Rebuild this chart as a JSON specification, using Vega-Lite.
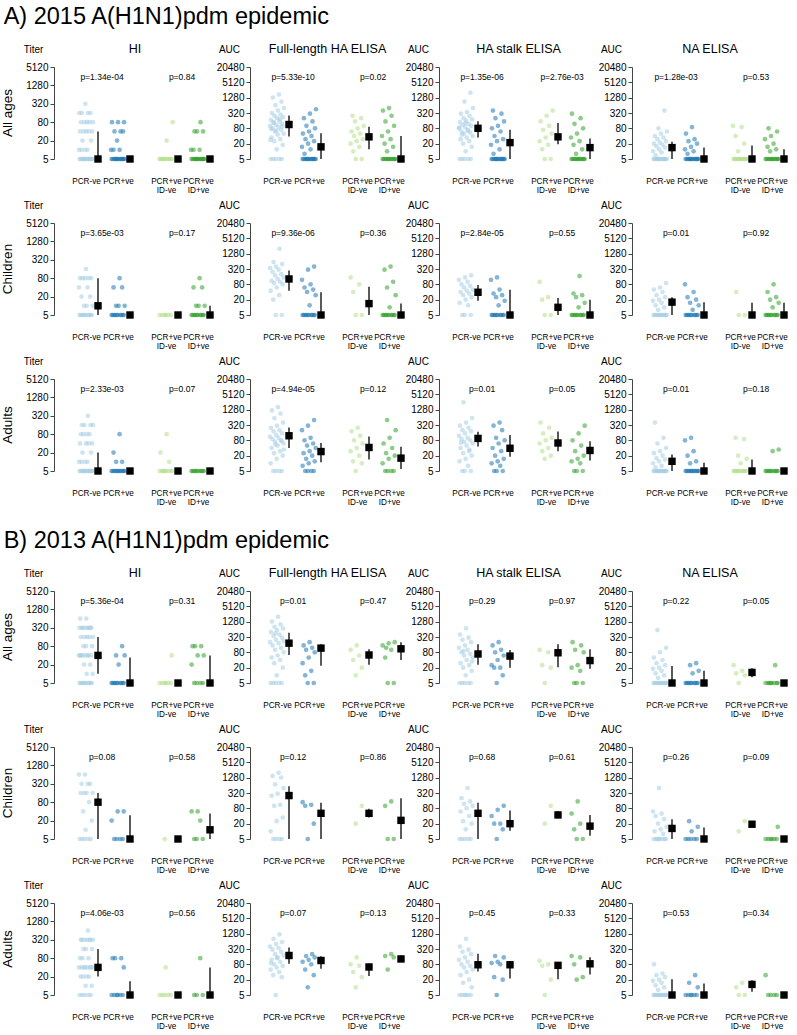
{
"$schema": "https://vega.github.io/schema/vega-lite/v6.json",
"padding": {"left": 0, "top": 5, "right": 0, "bottom": 0},
"data": {"name": "d"},
"config": {
 "font": "Liberation Sans",
 "view": {"stroke": null},
 "axisY": {"labelFontSize": 10, "labelPadding": 2, "tickSize": 4, "domainColor": "#444", "tickColor": "#444", "labelColor": "black", "grid": false, "titleAngle": 0, "titleAlign": "center", "titleBaseline": "middle", "titleX": -21, "titleY": -18, "titleFontSize": 10, "titleFontWeight": "normal", "titleColor": "black", "labelFlush": false, "labelOverlap": false},
 "axisX": {"domain": false, "ticks": false, "labelFontSize": 8.2, "labelPadding": 22, "labelBaseline": "middle", "labelLineHeight": 9.5, "labelAngle": 0, "labelOverlap": false, "labelColor": "black", "labelFlush": false},
 "title": {"fontWeight": "normal", "color": "black"}
},
"datasets": {
"d": [
{"s":"A","r":"All ages","m":"HI","g":"PCR-ve","pg":"PCR","p":"p=1.34e-04","med":5,"lo":5,"hi":40,"v":[5,5,5,5,5,5,5,5,5,5,5,5,5,5,10,10,10,10,20,20,40,40,40,40,40,80,80,80,80,80,160,160,160,160,320]},
{"s":"A","r":"All ages","m":"HI","g":"PCR+ve","med":5,"lo":5,"hi":5,"v":[5,5,5,5,5,5,5,5,5,5,5,5,5,5,10,10,10,20,40,40,40,80,80,80]},
{"s":"A","r":"All ages","m":"HI","g":"PCR+ve ID-ve","pg":"ID","p":"p=0.84","med":5,"lo":5,"hi":5,"v":[5,5,5,5,5,5,5,5,5,5,20,80]},
{"s":"A","r":"All ages","m":"HI","g":"PCR+ve ID+ve","med":5,"lo":5,"hi":5,"v":[5,5,5,5,5,5,5,5,5,5,5,5,5,5,10,10,10,40,40,40,80]},
{"s":"A","r":"All ages","m":"FL","g":"PCR-ve","pg":"PCR","p":"p=5.33e-10","med":113,"lo":38,"hi":254,"v":[5,5,5,5,5,12,18,25,30,35,45,50,60,70,80,90,100,110,120,130,150,170,200,220,250,280,320,400,500,650,900,1300,1700,28,65,95,140,180,75]},
{"s":"A","r":"All ages","m":"FL","g":"PCR+ve","med":15,"lo":5,"hi":51,"v":[5,5,5,5,5,5,5,5,5,5,5,5,5,5,8,12,15,20,25,30,40,50,60,80,100,150,200,300,450]},
{"s":"A","r":"All ages","m":"FL","g":"PCR+ve ID-ve","pg":"ID","p":"p=0.02","med":37,"lo":12,"hi":92,"v":[5,5,10,15,20,25,30,40,50,60,80,100,150,200,250]},
{"s":"A","r":"All ages","m":"FL","g":"PCR+ve ID+ve","med":5,"lo":5,"hi":40,"v":[5,5,5,5,5,5,5,5,5,5,5,5,10,15,20,30,40,60,100,150,250,400,500]},
{"s":"A","r":"All ages","m":"ST","g":"PCR-ve","pg":"PCR","p":"p=1.35e-06","med":80,"lo":35,"hi":153,"v":[5,5,5,5,5,10,15,20,25,30,35,40,50,55,60,70,80,90,100,110,120,140,160,180,200,250,300,350,500,900,2000,45,65,85,130]},
{"s":"A","r":"All ages","m":"ST","g":"PCR+ve","med":22,"lo":5,"hi":70,"v":[5,5,5,5,5,5,5,5,5,5,5,5,5,5,8,12,18,25,30,40,60,80,100,150,200,300,400]},
{"s":"A","r":"All ages","m":"ST","g":"PCR+ve ID-ve","pg":"ID","p":"p=2.76e-03","med":37,"lo":19,"hi":130,"v":[5,5,12,18,25,35,50,70,100,150,250,400]},
{"s":"A","r":"All ages","m":"ST","g":"PCR+ve ID+ve","med":14,"lo":5,"hi":32,"v":[5,5,5,5,5,5,5,5,5,5,5,5,8,12,18,25,35,50,80,120,200,300]},
{"s":"A","r":"All ages","m":"NA","g":"PCR-ve","pg":"PCR","p":"p=1.28e-03","med":14,"lo":5,"hi":24,"v":[5,5,5,5,5,5,5,5,5,5,5,5,5,5,7,9,10,12,14,16,18,20,22,25,30,35,40,50,60,80,400]},
{"s":"A","r":"All ages","m":"NA","g":"PCR+ve","med":5,"lo":5,"hi":14,"v":[5,5,5,5,5,5,5,5,5,5,5,5,5,5,8,10,12,15,20,25,30,50,90]},
{"s":"A","r":"All ages","m":"NA","g":"PCR+ve ID-ve","pg":"ID","p":"p=0.53","med":5,"lo":5,"hi":17,"v":[5,5,5,5,5,5,5,5,5,5,5,5,10,20,40,90,100]},
{"s":"A","r":"All ages","m":"NA","g":"PCR+ve ID+ve","med":5,"lo":5,"hi":12,"v":[5,5,5,5,5,5,5,5,5,5,5,5,10,12,15,20,30,40,60,80]},
{"s":"A","r":"Children","m":"HI","g":"PCR-ve","pg":"PCR","p":"p=3.65e-03","med":10,"lo":5,"hi":80,"v":[5,5,5,5,5,5,5,5,5,5,10,10,10,20,20,40,40,80,80,80,80,80,160]},
{"s":"A","r":"Children","m":"HI","g":"PCR+ve","med":5,"lo":5,"hi":5,"v":[5,5,5,5,5,5,5,5,5,5,10,10,10,40,40,80]},
{"s":"A","r":"Children","m":"HI","g":"PCR+ve ID-ve","pg":"ID","p":"p=0.17","med":5,"lo":5,"hi":5,"v":[5,5,5,5,5,5]},
{"s":"A","r":"Children","m":"HI","g":"PCR+ve ID+ve","med":5,"lo":5,"hi":10,"v":[5,5,5,5,5,5,5,5,5,5,10,10,10,40,40,80]},
{"s":"A","r":"Children","m":"FL","g":"PCR-ve","pg":"PCR","p":"p=9.36e-06","med":130,"lo":45,"hi":278,"v":[5,5,20,30,45,60,80,90,100,110,130,150,180,200,250,300,350,400,500,600,2000]},
{"s":"A","r":"Children","m":"FL","g":"PCR+ve","med":5,"lo":5,"hi":39,"v":[5,5,5,5,5,5,5,5,5,5,12,30,40,50,60,80,120,300,400]},
{"s":"A","r":"Children","m":"FL","g":"PCR+ve ID-ve","pg":"ID","p":"p=0.36","med":14,"lo":5,"hi":65,"v":[5,5,40,80,150]},
{"s":"A","r":"Children","m":"FL","g":"PCR+ve ID+ve","med":5,"lo":5,"hi":14,"v":[5,5,5,5,5,5,5,5,5,5,10,30,60,100,300,400]},
{"s":"A","r":"Children","m":"ST","g":"PCR-ve","pg":"PCR","p":"p=2.84e-05","med":39,"lo":18,"hi":76,"v":[5,5,5,12,15,20,25,30,35,40,45,50,60,70,80,100,120,150,180]},
{"s":"A","r":"Children","m":"ST","g":"PCR+ve","med":5,"lo":5,"hi":49,"v":[5,5,5,5,5,5,5,5,5,5,12,18,25,30,35,50,120,150]},
{"s":"A","r":"Children","m":"ST","g":"PCR+ve ID-ve","pg":"ID","p":"p=0.55","med":10,"lo":5,"hi":23,"v":[5,5,20,25,100]},
{"s":"A","r":"Children","m":"ST","g":"PCR+ve ID+ve","med":5,"lo":5,"hi":20,"v":[5,5,5,5,5,5,5,5,5,5,10,15,25,30,35,170]},
{"s":"A","r":"Children","m":"NA","g":"PCR-ve","pg":"PCR","p":"p=0.01","med":16,"lo":5,"hi":25,"v":[5,5,5,5,5,5,5,5,5,5,5,5,8,10,12,15,18,20,25,30,40,50,60,90]},
{"s":"A","r":"Children","m":"NA","g":"PCR+ve","med":5,"lo":5,"hi":16,"v":[5,5,5,5,5,5,5,5,5,5,8,12,15,20,25,40,80]},
{"s":"A","r":"Children","m":"NA","g":"PCR+ve ID-ve","pg":"ID","p":"p=0.92","med":5,"lo":5,"hi":15,"v":[5,5,40]},
{"s":"A","r":"Children","m":"NA","g":"PCR+ve ID+ve","med":5,"lo":5,"hi":15,"v":[5,5,5,5,5,5,5,5,5,5,10,15,20,25,40,80]},
{"s":"A","r":"Adults","m":"HI","g":"PCR-ve","pg":"PCR","p":"p=2.33e-03","med":5,"lo":5,"hi":20,"v":[5,5,5,5,5,5,5,5,5,5,5,5,5,5,10,10,10,10,20,20,40,40,40,40,80,80,80,80,160,160,160,160,320]},
{"s":"A","r":"Adults","m":"HI","g":"PCR+ve","med":5,"lo":5,"hi":5,"v":[5,5,5,5,5,5,5,5,5,5,5,5,10,10,20,80]},
{"s":"A","r":"Adults","m":"HI","g":"PCR+ve ID-ve","pg":"ID","p":"p=0.07","med":5,"lo":5,"hi":5,"v":[5,5,5,5,5,5,5,5,10,20,80]},
{"s":"A","r":"Adults","m":"HI","g":"PCR+ve ID+ve","med":5,"lo":5,"hi":5,"v":[5,5,5,5,5,5,5,5,5,5]},
{"s":"A","r":"Adults","m":"FL","g":"PCR-ve","pg":"PCR","p":"p=4.94e-05","med":121,"lo":40,"hi":253,"v":[5,5,5,5,10,15,20,25,30,40,50,60,70,80,90,100,110,130,150,180,200,250,300,400,600,900,1200,1600,35,55,75]},
{"s":"A","r":"Adults","m":"FL","g":"PCR+ve","med":29,"lo":11,"hi":63,"v":[5,5,5,5,8,10,12,15,20,25,30,40,50,60,80,100,200,300,500]},
{"s":"A","r":"Adults","m":"FL","g":"PCR+ve ID-ve","pg":"ID","p":"p=0.12","med":42,"lo":14,"hi":113,"v":[5,10,12,20,30,40,60,80,120,180,250]},
{"s":"A","r":"Adults","m":"FL","g":"PCR+ve ID+ve","med":16,"lo":6,"hi":45,"v":[5,5,5,5,10,15,20,25,40,60,100,200,500]},
{"s":"A","r":"Adults","m":"ST","g":"PCR-ve","pg":"PCR","p":"p=0.01","med":95,"lo":46,"hi":172,"v":[5,5,5,8,12,15,20,25,30,40,50,60,70,80,90,100,120,150,180,200,250,300,400,600,2500,35,65]},
{"s":"A","r":"Adults","m":"ST","g":"PCR+ve","med":39,"lo":18,"hi":130,"v":[5,5,5,8,10,12,15,20,30,40,60,80,100,200,300,400]},
{"s":"A","r":"Adults","m":"ST","g":"PCR+ve ID-ve","pg":"ID","p":"p=0.05","med":63,"lo":30,"hi":177,"v":[15,20,30,40,60,80,100,150,250,400]},
{"s":"A","r":"Adults","m":"ST","g":"PCR+ve ID+ve","med":32,"lo":13,"hi":73,"v":[5,5,5,10,12,15,20,30,50,80,150,300]},
{"s":"A","r":"Adults","m":"NA","g":"PCR-ve","pg":"PCR","p":"p=0.01","med":12,"lo":5,"hi":22,"v":[5,5,5,5,5,5,5,5,5,5,5,5,5,5,7,8,10,12,14,16,20,25,30,40,60,100,400]},
{"s":"A","r":"Adults","m":"NA","g":"PCR+ve","med":5,"lo":5,"hi":10.5,"v":[5,5,5,5,5,5,5,5,5,5,5,5,10,12,20,30,80,100]},
{"s":"A","r":"Adults","m":"NA","g":"PCR+ve ID-ve","pg":"ID","p":"p=0.18","med":5,"lo":5,"hi":14,"v":[5,5,5,5,5,5,5,5,5,5,10,15,20,90,100]},
{"s":"A","r":"Adults","m":"NA","g":"PCR+ve ID+ve","med":5,"lo":5,"hi":5,"v":[5,5,5,5,5,5,5,5,5,5,30,35]},
{"s":"B","r":"All ages","m":"HI","g":"PCR-ve","pg":"PCR","p":"p=5.36e-04","med":40,"lo":10,"hi":160,"v":[5,5,5,5,5,5,5,5,5,5,10,10,20,20,40,40,40,40,40,40,40,40,80,80,80,160,160,160,160,160,320,320,320,320,320,320,320,320,640,640]},
{"s":"B","r":"All ages","m":"HI","g":"PCR+ve","med":5,"lo":5,"hi":34,"v":[5,5,5,5,5,5,5,5,5,5,20,40,40,80]},
{"s":"B","r":"All ages","m":"HI","g":"PCR+ve ID-ve","pg":"ID","p":"p=0.31","med":5,"lo":5,"hi":5,"v":[5,5,5,5,5,5,40]},
{"s":"B","r":"All ages","m":"HI","g":"PCR+ve ID+ve","med":5,"lo":5,"hi":40,"v":[5,5,5,5,20,40,40,80,80,80]},
{"s":"B","r":"All ages","m":"FL","g":"PCR-ve","pg":"PCR","p":"p=0.01","med":183,"lo":63,"hi":475,"v":[5,5,5,5,5,10,20,30,40,50,60,80,100,120,150,180,200,250,300,350,400,500,600,700,800,1000,1300,2000,220,450]},
{"s":"B","r":"All ages","m":"FL","g":"PCR+ve","med":117,"lo":24,"hi":167,"v":[5,5,10,15,30,50,80,100,120,150,200]},
{"s":"B","r":"All ages","m":"FL","g":"PCR+ve ID-ve","pg":"ID","p":"p=0.47","med":63,"lo":26,"hi":106,"v":[10,20,40,60,100,150]},
{"s":"B","r":"All ages","m":"FL","g":"PCR+ve ID+ve","med":110,"lo":40,"hi":200,"v":[5,5,50,100,150,180,200,120]},
{"s":"B","r":"All ages","m":"ST","g":"PCR-ve","pg":"PCR","p":"p=0.29","med":69,"lo":26,"hi":167,"v":[5,5,5,5,5,10,15,20,25,30,40,50,60,70,80,100,120,150,200,250,300,400,700,35,90]},
{"s":"B","r":"All ages","m":"ST","g":"PCR+ve","med":57,"lo":20,"hi":98,"v":[5,10,20,20,25,40,60,80,100,150,200]},
{"s":"B","r":"All ages","m":"ST","g":"PCR+ve ID-ve","pg":"ID","p":"p=0.97","med":77,"lo":21,"hi":167,"v":[5,20,25,80,100]},
{"s":"B","r":"All ages","m":"ST","g":"PCR+ve ID+ve","med":38,"lo":18,"hi":106,"v":[5,5,5,15,20,25,80,100,150,200]},
{"s":"B","r":"All ages","m":"NA","g":"PCR-ve","pg":"PCR","p":"p=0.22","med":5,"lo":5,"hi":23,"v":[5,5,5,5,5,5,5,5,5,5,5,5,8,10,12,15,18,20,25,30,40,50,80,120,600]},
{"s":"B","r":"All ages","m":"NA","g":"PCR+ve","med":5,"lo":5,"hi":15,"v":[5,5,5,5,5,5,5,5,5,5,12,15,25,30]},
{"s":"B","r":"All ages","m":"NA","g":"PCR+ve ID-ve","pg":"ID","p":"p=0.05","med":13,"lo":8.5,"hi":19,"v":[5,10,12,15,25]},
{"s":"B","r":"All ages","m":"NA","g":"PCR+ve ID+ve","med":5,"lo":5,"hi":5,"v":[5,5,5,5,5,5,5,5,25]},
{"s":"B","r":"Children","m":"HI","g":"PCR-ve","pg":"PCR","p":"p=0.08","med":80,"lo":5,"hi":160,"v":[5,5,5,5,5,10,20,40,80,160,160,160,160,320,320,320,640,640]},
{"s":"B","r":"Children","m":"HI","g":"PCR+ve","med":5,"lo":5,"hi":30,"v":[5,5,5,5,20,40,40]},
{"s":"B","r":"Children","m":"HI","g":"PCR+ve ID-ve","pg":"ID","p":"p=0.58","med":5,"lo":5,"hi":5,"v":[5]},
{"s":"B","r":"Children","m":"HI","g":"PCR+ve ID+ve","med":10,"lo":5,"hi":34,"v":[5,5,5,20,40,40]},
{"s":"B","r":"Children","m":"FL","g":"PCR-ve","pg":"PCR","p":"p=0.12","med":254,"lo":5,"hi":584,"v":[5,5,5,5,10,25,35,100,110,250,300,500,700,1300,1500,2000]},
{"s":"B","r":"Children","m":"FL","g":"PCR+ve","med":51,"lo":5,"hi":132,"v":[5,20,100,110,140]},
{"s":"B","r":"Children","m":"FL","g":"PCR+ve ID-ve","pg":"ID","p":"p=0.86","med":51,"lo":35,"hi":77,"v":[20,100]},
{"s":"B","r":"Children","m":"FL","g":"PCR+ve ID+ve","med":27,"lo":5,"hi":200,"v":[5,5,100,150]},
{"s":"B","r":"Children","m":"ST","g":"PCR-ve","pg":"PCR","p":"p=0.68","med":51,"lo":5,"hi":132,"v":[5,5,5,5,5,12,20,25,40,60,80,100,120,150,200,500]},
{"s":"B","r":"Children","m":"ST","g":"PCR+ve","med":20,"lo":10.5,"hi":66,"v":[5,12,20,20,40,70,100]},
{"s":"B","r":"Children","m":"ST","g":"PCR+ve ID-ve","pg":"ID","p":"p=0.61","med":44,"lo":33,"hi":63,"v":[20,100]},
{"s":"B","r":"Children","m":"ST","g":"PCR+ve ID+ve","med":16,"lo":6.7,"hi":44,"v":[5,5,12,20,50,150]},
{"s":"B","r":"Children","m":"NA","g":"PCR-ve","pg":"PCR","p":"p=0.26","med":13,"lo":5,"hi":30,"v":[5,5,5,5,5,5,5,5,8,10,12,15,20,30,40,50,60,500]},
{"s":"B","r":"Children","m":"NA","g":"PCR+ve","med":5,"lo":5,"hi":14,"v":[5,5,5,5,5,10,15,25]},
{"s":"B","r":"Children","m":"NA","g":"PCR+ve ID-ve","pg":"ID","p":"p=0.09","med":19,"lo":19,"hi":19,"v":[10,25]},
{"s":"B","r":"Children","m":"NA","g":"PCR+ve ID+ve","med":5,"lo":5,"hi":5,"v":[5,5,5,5,5,5,15]},
{"s":"B","r":"Adults","m":"HI","g":"PCR-ve","pg":"PCR","p":"p=4.06e-03","med":40,"lo":20,"hi":160,"v":[5,5,5,5,5,10,10,20,20,20,20,40,40,40,40,40,40,40,40,80,80,80,160,160,160,320,320,320,320,320,320,320,640]},
{"s":"B","r":"Adults","m":"HI","g":"PCR+ve","med":5,"lo":5,"hi":14,"v":[5,5,5,5,5,5,40,80,80,80]},
{"s":"B","r":"Adults","m":"HI","g":"PCR+ve ID-ve","pg":"ID","p":"p=0.56","med":5,"lo":5,"hi":5,"v":[5,5,5,5,5,40]},
{"s":"B","r":"Adults","m":"HI","g":"PCR+ve ID+ve","med":5,"lo":5,"hi":40,"v":[5,5,5,80]},
{"s":"B","r":"Adults","m":"FL","g":"PCR-ve","pg":"PCR","p":"p=0.07","med":178,"lo":84,"hi":370,"v":[5,25,30,40,50,60,70,80,100,120,150,180,200,250,300,350,400,500,600,800,1200,90,140]},
{"s":"B","r":"Adults","m":"FL","g":"PCR+ve","med":113,"lo":54,"hi":167,"v":[10,30,50,80,100,120,150,170,200]},
{"s":"B","r":"Adults","m":"FL","g":"PCR+ve ID-ve","pg":"ID","p":"p=0.13","med":63,"lo":28,"hi":84,"v":[10,25,40,70,80,150]},
{"s":"B","r":"Adults","m":"FL","g":"PCR+ve ID+ve","med":130,"lo":100,"hi":180,"v":[50,150,170,200]},
{"s":"B","r":"Adults","m":"ST","g":"PCR-ve","pg":"PCR","p":"p=0.45","med":77,"lo":42,"hi":206,"v":[5,5,5,5,5,5,10,15,20,30,40,50,60,70,80,100,120,150,200,250,300,400,800]},
{"s":"B","r":"Adults","m":"ST","g":"PCR+ve","med":77,"lo":22,"hi":107,"v":[5,20,25,80,90,100,150,170]},
{"s":"B","r":"Adults","m":"ST","g":"PCR+ve ID-ve","pg":"ID","p":"p=0.33","med":73,"lo":21,"hi":77,"v":[5,20,70,80,110]},
{"s":"B","r":"Adults","m":"ST","g":"PCR+ve ID+ve","med":84,"lo":32,"hi":153,"v":[20,25,80,150,170]},
{"s":"B","r":"Adults","m":"NA","g":"PCR-ve","pg":"PCR","p":"p=0.53","med":5,"lo":5,"hi":21,"v":[5,5,5,5,5,5,5,5,5,5,5,5,8,10,12,15,18,20,25,30,35,80]},
{"s":"B","r":"Adults","m":"NA","g":"PCR+ve","med":5,"lo":5,"hi":14,"v":[5,5,5,5,5,5,10,15,30]},
{"s":"B","r":"Adults","m":"NA","g":"PCR+ve ID-ve","pg":"ID","p":"p=0.34","med":13,"lo":6.7,"hi":19,"v":[5,5,10,15]},
{"s":"B","r":"Adults","m":"NA","g":"PCR+ve ID+ve","med":5,"lo":5,"hi":5,"v":[5,5,5,5,30]}
]},
"spacing": 23,
"vconcat": [
{"title": {"text": "A) 2015 A(H1N1)pdm epidemic", "fontSize": 23.5, "anchor": "start", "offset": 14, "dx": 3},
 "spacing": 0,
 "hconcat": [
 {"transform": [{"filter": "datum.s==='A' && datum.m==='HI'"},{"flatten": ["v"]},{"window": [{"op": "row_number", "as": "i"}], "groupby": ["r","g"]}],
  "facet": {"row": {"field": "r", "type": "nominal", "title": null, "sort": ["All ages","Children","Adults"], "header": {"title": null, "labelAngle": -90, "labelOrient": "left", "labelFontSize": 13.5, "labelPadding": 2, "labelColor": "black"}},
            "column": {"field": "m", "type": "nominal", "title": null, "header": {"title": null, "labelFontSize": 12.5, "labelPadding": 12, "labelColor": "black", "labelExpr": "'HI'"}}},
  "spacing": 29, "resolve": {"axis": {"x": "independent"}},
  "spec": {"width": 162, "height": 92,
   "encoding": {"x": {"field": "g", "type": "nominal", "title": null, "scale": {"type": "point", "padding": 0, "domain": ["PCR-ve","PCR","PCR+ve","_a","_b","PCR+ve ID-ve","ID","PCR+ve ID+ve"], "range": [32,144]}, "axis": {"labelExpr": "indexof(datum.label,'ve')<0 ? '' : split(datum.label,' ')"}}},
   "layer": [
    {"mark": {"type": "circle", "size": 22, "opacity": 0.55},
     "encoding": {"y": {"field": "v", "type": "quantitative", "scale": {"type": "log", "domain": [5,5120], "nice": false}, "axis": {"values": [5,20,80,320,1280,5120], "format": "d", "title": "Titer"}},
      "xOffset": {"field": "i", "type": "ordinal", "scale": {"type": "point", "padding": 0, "domain": [17,34,5,22,39,10,27,44,15,32,3,20,37,8,25,42,13,30,1,18,35,6,23,40,11,28,45,16,33,4,21,38,9,26,43,14,31,2,19,36,7,24,41,12,29], "range": [-7,7]}},
      "color": {"field": "g", "type": "nominal", "scale": {"domain": ["PCR-ve","PCR+ve","PCR+ve ID-ve","PCR+ve ID+ve"], "range": ["#a6cee3","#1f78b4","#b2df8a","#33a02c"]}, "legend": null}}},
    {"transform": [{"filter": "datum.i===1"}], "mark": {"type": "rule", "xOffset": 12, "color": "black", "strokeWidth": 1.3}, "encoding": {"y": {"field": "lo", "type": "quantitative", "title": "Titer"}, "y2": {"field": "hi"}}},
    {"transform": [{"filter": "datum.i===1"}], "mark": {"type": "square", "xOffset": 12, "color": "black", "opacity": 1, "size": 55}, "encoding": {"y": {"field": "med", "type": "quantitative", "title": "Titer"}}},
    {"transform": [{"filter": "datum.i===1 && isValid(datum.p)"}], "mark": {"type": "text", "fontSize": 8.5, "color": "black"}, "encoding": {"x": {"field": "pg", "type": "nominal"}, "y": {"datum": 2400}, "text": {"field": "p"}}}
   ]}},
 {"transform": [{"filter": "datum.s==='A' && datum.m==='FL'"},{"flatten": ["v"]},{"window": [{"op": "row_number", "as": "i"}], "groupby": ["r","g"]}],
  "facet": {"row": {"field": "r", "type": "nominal", "title": null, "sort": ["All ages","Children","Adults"], "header": {"title": null, "labels": false}},
            "column": {"field": "m", "type": "nominal", "title": null, "header": {"title": null, "labelFontSize": 12.5, "labelPadding": 12, "labelColor": "black", "labelExpr": "'Full-length HA ELISA'"}}},
  "spacing": 29, "resolve": {"axis": {"x": "independent"}},
  "spec": {"width": 155, "height": 92,
   "encoding": {"x": {"field": "g", "type": "nominal", "title": null, "scale": {"type": "point", "padding": 0, "domain": ["PCR-ve","PCR","PCR+ve","_a","_b","PCR+ve ID-ve","ID","PCR+ve ID+ve"], "range": [27,139]}, "axis": {"labelExpr": "indexof(datum.label,'ve')<0 ? '' : split(datum.label,' ')"}}},
   "layer": [
    {"mark": {"type": "circle", "size": 22, "opacity": 0.55},
     "encoding": {"y": {"field": "v", "type": "quantitative", "scale": {"type": "log", "domain": [5,20480], "nice": false}, "axis": {"values": [5,20,80,320,1280,5120,20480], "format": "d", "title": "AUC"}},
      "xOffset": {"field": "i", "type": "ordinal", "scale": {"type": "point", "padding": 0, "domain": [17,34,5,22,39,10,27,44,15,32,3,20,37,8,25,42,13,30,1,18,35,6,23,40,11,28,45,16,33,4,21,38,9,26,43,14,31,2,19,36,7,24,41,12,29], "range": [-7,7]}},
      "color": {"field": "g", "type": "nominal", "legend": null}}},
    {"transform": [{"filter": "datum.i===1"}], "mark": {"type": "rule", "xOffset": 12, "color": "black", "strokeWidth": 1.3}, "encoding": {"y": {"field": "lo", "type": "quantitative", "title": "AUC"}, "y2": {"field": "hi"}}},
    {"transform": [{"filter": "datum.i===1"}], "mark": {"type": "square", "xOffset": 12, "color": "black", "opacity": 1, "size": 55}, "encoding": {"y": {"field": "med", "type": "quantitative", "title": "AUC"}}},
    {"transform": [{"filter": "datum.i===1 && isValid(datum.p)"}], "mark": {"type": "text", "fontSize": 8.5, "color": "black"}, "encoding": {"x": {"field": "pg", "type": "nominal"}, "y": {"datum": 8300}, "text": {"field": "p"}}}
   ]}},
 {"transform": [{"filter": "datum.s==='A' && datum.m==='ST'"},{"flatten": ["v"]},{"window": [{"op": "row_number", "as": "i"}], "groupby": ["r","g"]}],
  "facet": {"row": {"field": "r", "type": "nominal", "title": null, "sort": ["All ages","Children","Adults"], "header": {"title": null, "labels": false}},
            "column": {"field": "m", "type": "nominal", "title": null, "header": {"title": null, "labelFontSize": 12.5, "labelPadding": 12, "labelColor": "black", "labelExpr": "'HA stalk ELISA'"}}},
  "spacing": 29, "resolve": {"axis": {"x": "independent"}},
  "spec": {"width": 159, "height": 92,
   "encoding": {"x": {"field": "g", "type": "nominal", "title": null, "scale": {"type": "point", "padding": 0, "domain": ["PCR-ve","PCR","PCR+ve","_a","_b","PCR+ve ID-ve","ID","PCR+ve ID+ve"], "range": [27,139]}, "axis": {"labelExpr": "indexof(datum.label,'ve')<0 ? '' : split(datum.label,' ')"}}},
   "layer": [
    {"mark": {"type": "circle", "size": 22, "opacity": 0.55},
     "encoding": {"y": {"field": "v", "type": "quantitative", "scale": {"type": "log", "domain": [5,20480], "nice": false}, "axis": {"values": [5,20,80,320,1280,5120,20480], "format": "d", "title": "AUC"}},
      "xOffset": {"field": "i", "type": "ordinal", "scale": {"type": "point", "padding": 0, "domain": [17,34,5,22,39,10,27,44,15,32,3,20,37,8,25,42,13,30,1,18,35,6,23,40,11,28,45,16,33,4,21,38,9,26,43,14,31,2,19,36,7,24,41,12,29], "range": [-7,7]}},
      "color": {"field": "g", "type": "nominal", "legend": null}}},
    {"transform": [{"filter": "datum.i===1"}], "mark": {"type": "rule", "xOffset": 12, "color": "black", "strokeWidth": 1.3}, "encoding": {"y": {"field": "lo", "type": "quantitative", "title": "AUC"}, "y2": {"field": "hi"}}},
    {"transform": [{"filter": "datum.i===1"}], "mark": {"type": "square", "xOffset": 12, "color": "black", "opacity": 1, "size": 55}, "encoding": {"y": {"field": "med", "type": "quantitative", "title": "AUC"}}},
    {"transform": [{"filter": "datum.i===1 && isValid(datum.p)"}], "mark": {"type": "text", "fontSize": 8.5, "color": "black"}, "encoding": {"x": {"field": "pg", "type": "nominal"}, "y": {"datum": 8300}, "text": {"field": "p"}}}
   ]}},
 {"transform": [{"filter": "datum.s==='A' && datum.m==='NA'"},{"flatten": ["v"]},{"window": [{"op": "row_number", "as": "i"}], "groupby": ["r","g"]}],
  "facet": {"row": {"field": "r", "type": "nominal", "title": null, "sort": ["All ages","Children","Adults"], "header": {"title": null, "labels": false}},
            "column": {"field": "m", "type": "nominal", "title": null, "header": {"title": null, "labelFontSize": 12.5, "labelPadding": 12, "labelColor": "black", "labelExpr": "'NA ELISA'"}}},
  "spacing": 29, "resolve": {"axis": {"x": "independent"}},
  "spec": {"width": 156, "height": 92,
   "encoding": {"x": {"field": "g", "type": "nominal", "title": null, "scale": {"type": "point", "padding": 0, "domain": ["PCR-ve","PCR","PCR+ve","_a","_b","PCR+ve ID-ve","ID","PCR+ve ID+ve"], "range": [28,140]}, "axis": {"labelExpr": "indexof(datum.label,'ve')<0 ? '' : split(datum.label,' ')"}}},
   "layer": [
    {"mark": {"type": "circle", "size": 22, "opacity": 0.55},
     "encoding": {"y": {"field": "v", "type": "quantitative", "scale": {"type": "log", "domain": [5,20480], "nice": false}, "axis": {"values": [5,20,80,320,1280,5120,20480], "format": "d", "title": "AUC"}},
      "xOffset": {"field": "i", "type": "ordinal", "scale": {"type": "point", "padding": 0, "domain": [17,34,5,22,39,10,27,44,15,32,3,20,37,8,25,42,13,30,1,18,35,6,23,40,11,28,45,16,33,4,21,38,9,26,43,14,31,2,19,36,7,24,41,12,29], "range": [-7,7]}},
      "color": {"field": "g", "type": "nominal", "legend": null}}},
    {"transform": [{"filter": "datum.i===1"}], "mark": {"type": "rule", "xOffset": 12, "color": "black", "strokeWidth": 1.3}, "encoding": {"y": {"field": "lo", "type": "quantitative", "title": "AUC"}, "y2": {"field": "hi"}}},
    {"transform": [{"filter": "datum.i===1"}], "mark": {"type": "square", "xOffset": 12, "color": "black", "opacity": 1, "size": 55}, "encoding": {"y": {"field": "med", "type": "quantitative", "title": "AUC"}}},
    {"transform": [{"filter": "datum.i===1 && isValid(datum.p)"}], "mark": {"type": "text", "fontSize": 8.5, "color": "black"}, "encoding": {"x": {"field": "pg", "type": "nominal"}, "y": {"datum": 8300}, "text": {"field": "p"}}}
   ]}}
 ]},
{"title": {"text": "B) 2013 A(H1N1)pdm epidemic", "fontSize": 23.5, "anchor": "start", "offset": 14, "dx": 3},
 "spacing": 0,
 "hconcat": [
 {"transform": [{"filter": "datum.s==='B' && datum.m==='HI'"},{"flatten": ["v"]},{"window": [{"op": "row_number", "as": "i"}], "groupby": ["r","g"]}],
  "facet": {"row": {"field": "r", "type": "nominal", "title": null, "sort": ["All ages","Children","Adults"], "header": {"title": null, "labelAngle": -90, "labelOrient": "left", "labelFontSize": 13.5, "labelPadding": 2, "labelColor": "black"}},
            "column": {"field": "m", "type": "nominal", "title": null, "header": {"title": null, "labelFontSize": 12.5, "labelPadding": 12, "labelColor": "black", "labelExpr": "'HI'"}}},
  "spacing": 29, "resolve": {"axis": {"x": "independent"}},
  "spec": {"width": 162, "height": 92,
   "encoding": {"x": {"field": "g", "type": "nominal", "title": null, "scale": {"type": "point", "padding": 0, "domain": ["PCR-ve","PCR","PCR+ve","_a","_b","PCR+ve ID-ve","ID","PCR+ve ID+ve"], "range": [32,144]}, "axis": {"labelExpr": "indexof(datum.label,'ve')<0 ? '' : split(datum.label,' ')"}}},
   "layer": [
    {"mark": {"type": "circle", "size": 22, "opacity": 0.55},
     "encoding": {"y": {"field": "v", "type": "quantitative", "scale": {"type": "log", "domain": [5,5120], "nice": false}, "axis": {"values": [5,20,80,320,1280,5120], "format": "d", "title": "Titer"}},
      "xOffset": {"field": "i", "type": "ordinal", "scale": {"type": "point", "padding": 0, "domain": [17,34,5,22,39,10,27,44,15,32,3,20,37,8,25,42,13,30,1,18,35,6,23,40,11,28,45,16,33,4,21,38,9,26,43,14,31,2,19,36,7,24,41,12,29], "range": [-7,7]}},
      "color": {"field": "g", "type": "nominal", "legend": null}}},
    {"transform": [{"filter": "datum.i===1"}], "mark": {"type": "rule", "xOffset": 12, "color": "black", "strokeWidth": 1.3}, "encoding": {"y": {"field": "lo", "type": "quantitative", "title": "Titer"}, "y2": {"field": "hi"}}},
    {"transform": [{"filter": "datum.i===1"}], "mark": {"type": "square", "xOffset": 12, "color": "black", "opacity": 1, "size": 55}, "encoding": {"y": {"field": "med", "type": "quantitative", "title": "Titer"}}},
    {"transform": [{"filter": "datum.i===1 && isValid(datum.p)"}], "mark": {"type": "text", "fontSize": 8.5, "color": "black"}, "encoding": {"x": {"field": "pg", "type": "nominal"}, "y": {"datum": 2400}, "text": {"field": "p"}}}
   ]}},
 {"transform": [{"filter": "datum.s==='B' && datum.m==='FL'"},{"flatten": ["v"]},{"window": [{"op": "row_number", "as": "i"}], "groupby": ["r","g"]}],
  "facet": {"row": {"field": "r", "type": "nominal", "title": null, "sort": ["All ages","Children","Adults"], "header": {"title": null, "labels": false}},
            "column": {"field": "m", "type": "nominal", "title": null, "header": {"title": null, "labelFontSize": 12.5, "labelPadding": 12, "labelColor": "black", "labelExpr": "'Full-length HA ELISA'"}}},
  "spacing": 29, "resolve": {"axis": {"x": "independent"}},
  "spec": {"width": 155, "height": 92,
   "encoding": {"x": {"field": "g", "type": "nominal", "title": null, "scale": {"type": "point", "padding": 0, "domain": ["PCR-ve","PCR","PCR+ve","_a","_b","PCR+ve ID-ve","ID","PCR+ve ID+ve"], "range": [27,139]}, "axis": {"labelExpr": "indexof(datum.label,'ve')<0 ? '' : split(datum.label,' ')"}}},
   "layer": [
    {"mark": {"type": "circle", "size": 22, "opacity": 0.55},
     "encoding": {"y": {"field": "v", "type": "quantitative", "scale": {"type": "log", "domain": [5,20480], "nice": false}, "axis": {"values": [5,20,80,320,1280,5120,20480], "format": "d", "title": "AUC"}},
      "xOffset": {"field": "i", "type": "ordinal", "scale": {"type": "point", "padding": 0, "domain": [17,34,5,22,39,10,27,44,15,32,3,20,37,8,25,42,13,30,1,18,35,6,23,40,11,28,45,16,33,4,21,38,9,26,43,14,31,2,19,36,7,24,41,12,29], "range": [-7,7]}},
      "color": {"field": "g", "type": "nominal", "legend": null}}},
    {"transform": [{"filter": "datum.i===1"}], "mark": {"type": "rule", "xOffset": 12, "color": "black", "strokeWidth": 1.3}, "encoding": {"y": {"field": "lo", "type": "quantitative", "title": "AUC"}, "y2": {"field": "hi"}}},
    {"transform": [{"filter": "datum.i===1"}], "mark": {"type": "square", "xOffset": 12, "color": "black", "opacity": 1, "size": 55}, "encoding": {"y": {"field": "med", "type": "quantitative", "title": "AUC"}}},
    {"transform": [{"filter": "datum.i===1 && isValid(datum.p)"}], "mark": {"type": "text", "fontSize": 8.5, "color": "black"}, "encoding": {"x": {"field": "pg", "type": "nominal"}, "y": {"datum": 8300}, "text": {"field": "p"}}}
   ]}},
 {"transform": [{"filter": "datum.s==='B' && datum.m==='ST'"},{"flatten": ["v"]},{"window": [{"op": "row_number", "as": "i"}], "groupby": ["r","g"]}],
  "facet": {"row": {"field": "r", "type": "nominal", "title": null, "sort": ["All ages","Children","Adults"], "header": {"title": null, "labels": false}},
            "column": {"field": "m", "type": "nominal", "title": null, "header": {"title": null, "labelFontSize": 12.5, "labelPadding": 12, "labelColor": "black", "labelExpr": "'HA stalk ELISA'"}}},
  "spacing": 29, "resolve": {"axis": {"x": "independent"}},
  "spec": {"width": 159, "height": 92,
   "encoding": {"x": {"field": "g", "type": "nominal", "title": null, "scale": {"type": "point", "padding": 0, "domain": ["PCR-ve","PCR","PCR+ve","_a","_b","PCR+ve ID-ve","ID","PCR+ve ID+ve"], "range": [27,139]}, "axis": {"labelExpr": "indexof(datum.label,'ve')<0 ? '' : split(datum.label,' ')"}}},
   "layer": [
    {"mark": {"type": "circle", "size": 22, "opacity": 0.55},
     "encoding": {"y": {"field": "v", "type": "quantitative", "scale": {"type": "log", "domain": [5,20480], "nice": false}, "axis": {"values": [5,20,80,320,1280,5120,20480], "format": "d", "title": "AUC"}},
      "xOffset": {"field": "i", "type": "ordinal", "scale": {"type": "point", "padding": 0, "domain": [17,34,5,22,39,10,27,44,15,32,3,20,37,8,25,42,13,30,1,18,35,6,23,40,11,28,45,16,33,4,21,38,9,26,43,14,31,2,19,36,7,24,41,12,29], "range": [-7,7]}},
      "color": {"field": "g", "type": "nominal", "legend": null}}},
    {"transform": [{"filter": "datum.i===1"}], "mark": {"type": "rule", "xOffset": 12, "color": "black", "strokeWidth": 1.3}, "encoding": {"y": {"field": "lo", "type": "quantitative", "title": "AUC"}, "y2": {"field": "hi"}}},
    {"transform": [{"filter": "datum.i===1"}], "mark": {"type": "square", "xOffset": 12, "color": "black", "opacity": 1, "size": 55}, "encoding": {"y": {"field": "med", "type": "quantitative", "title": "AUC"}}},
    {"transform": [{"filter": "datum.i===1 && isValid(datum.p)"}], "mark": {"type": "text", "fontSize": 8.5, "color": "black"}, "encoding": {"x": {"field": "pg", "type": "nominal"}, "y": {"datum": 8300}, "text": {"field": "p"}}}
   ]}},
 {"transform": [{"filter": "datum.s==='B' && datum.m==='NA'"},{"flatten": ["v"]},{"window": [{"op": "row_number", "as": "i"}], "groupby": ["r","g"]}],
  "facet": {"row": {"field": "r", "type": "nominal", "title": null, "sort": ["All ages","Children","Adults"], "header": {"title": null, "labels": false}},
            "column": {"field": "m", "type": "nominal", "title": null, "header": {"title": null, "labelFontSize": 12.5, "labelPadding": 12, "labelColor": "black", "labelExpr": "'NA ELISA'"}}},
  "spacing": 29, "resolve": {"axis": {"x": "independent"}},
  "spec": {"width": 156, "height": 92,
   "encoding": {"x": {"field": "g", "type": "nominal", "title": null, "scale": {"type": "point", "padding": 0, "domain": ["PCR-ve","PCR","PCR+ve","_a","_b","PCR+ve ID-ve","ID","PCR+ve ID+ve"], "range": [28,140]}, "axis": {"labelExpr": "indexof(datum.label,'ve')<0 ? '' : split(datum.label,' ')"}}},
   "layer": [
    {"mark": {"type": "circle", "size": 22, "opacity": 0.55},
     "encoding": {"y": {"field": "v", "type": "quantitative", "scale": {"type": "log", "domain": [5,20480], "nice": false}, "axis": {"values": [5,20,80,320,1280,5120,20480], "format": "d", "title": "AUC"}},
      "xOffset": {"field": "i", "type": "ordinal", "scale": {"type": "point", "padding": 0, "domain": [17,34,5,22,39,10,27,44,15,32,3,20,37,8,25,42,13,30,1,18,35,6,23,40,11,28,45,16,33,4,21,38,9,26,43,14,31,2,19,36,7,24,41,12,29], "range": [-7,7]}},
      "color": {"field": "g", "type": "nominal", "legend": null}}},
    {"transform": [{"filter": "datum.i===1"}], "mark": {"type": "rule", "xOffset": 12, "color": "black", "strokeWidth": 1.3}, "encoding": {"y": {"field": "lo", "type": "quantitative", "title": "AUC"}, "y2": {"field": "hi"}}},
    {"transform": [{"filter": "datum.i===1"}], "mark": {"type": "square", "xOffset": 12, "color": "black", "opacity": 1, "size": 55}, "encoding": {"y": {"field": "med", "type": "quantitative", "title": "AUC"}}},
    {"transform": [{"filter": "datum.i===1 && isValid(datum.p)"}], "mark": {"type": "text", "fontSize": 8.5, "color": "black"}, "encoding": {"x": {"field": "pg", "type": "nominal"}, "y": {"datum": 8300}, "text": {"field": "p"}}}
   ]}}
 ]}
]
}
